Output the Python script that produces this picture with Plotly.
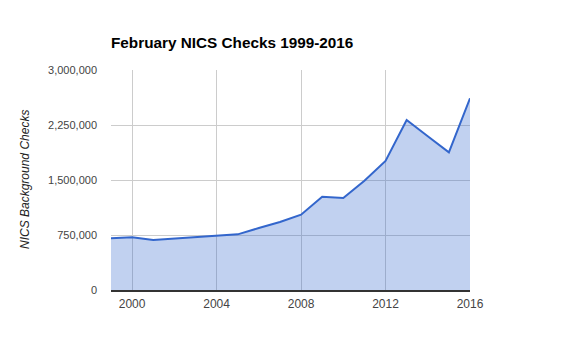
import plotly.graph_objects as go

years = list(range(1999, 2017))
checks = [705000, 718000, 682000, 700000, 718000, 736000, 759000, 845000, 927000,
          1027000, 1272000, 1255000, 1491000, 1759000, 2318000, 2097000, 1877000, 2614000]
y_ticks = [0, 750000, 1500000, 2250000, 3000000]
x_ticks = [2000, 2004, 2008, 2012, 2016]

L, R, T, B = 103, 118, 62, 77
W, H = 580, 359
pw = W - L - R

fig = go.Figure()
fig.add_trace(go.Scatter(
    x=years, y=checks, mode="lines", fill="tozeroy",
    line=dict(color="#3366cc", width=2),
    fillcolor="rgba(51,102,204,0.3)",
    hoverinfo="x+y"
))

fig.update_layout(
    width=W, height=H,
    margin=dict(l=L, r=R, t=T, b=B),
    paper_bgcolor="white", plot_bgcolor="white",
    font=dict(family="Liberation Sans, Arial, sans-serif", size=12, color="#444444"),
    title=dict(text="<b>February NICS Checks 1999-2016</b>", x=L/W, xanchor="left",
               y=1-35/H, yanchor="middle",
               font=dict(size=15.3, color="#000000")),
    showlegend=False,
    xaxis=dict(range=[1999, 2016], tickvals=x_ticks, ticktext=[str(t) for t in x_ticks],
               showgrid=True, gridcolor="#cccccc", gridwidth=1,
               showline=True, linecolor="#333333", linewidth=2, zeroline=False,
               ticks="", ticklabelstandoff=2, automargin=False,
               tickfont=dict(size=12)),
    yaxis=dict(range=[0, 3000000], tickvals=y_ticks,
               ticktext=[f"{v:,}" for v in y_ticks],
               showgrid=True, gridcolor="#cccccc", gridwidth=1, zeroline=False,
               ticks="", ticklabelstandoff=13, automargin=False,
               tickfont=dict(size=11)),
    annotations=[dict(text="<i>NICS Background Checks</i>", xref="paper", yref="paper",
                      x=(17 - L) / pw, y=0.5, xanchor="center", yanchor="middle",
                      textangle=-90, showarrow=False,
                      font=dict(size=12, color="#222222"))],
)

fig.write_html("out.html")
